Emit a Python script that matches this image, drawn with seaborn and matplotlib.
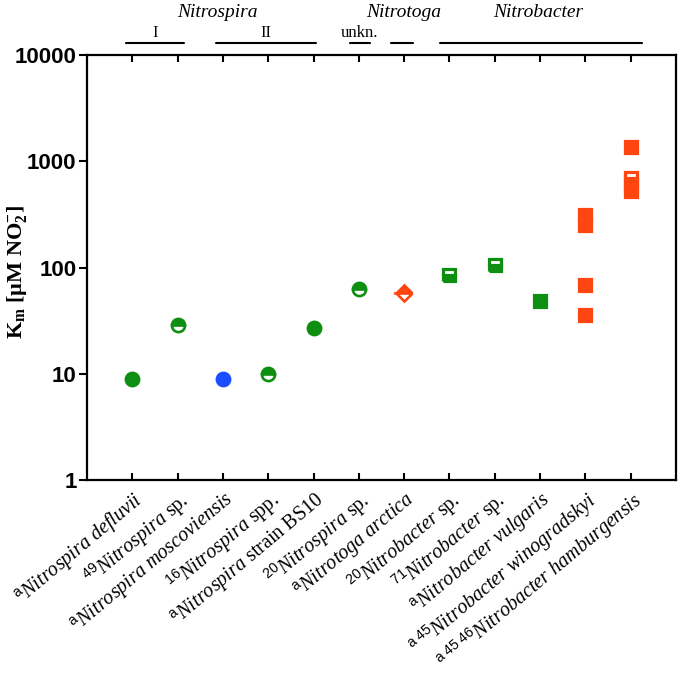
import pandas as pd
import seaborn as sns
import matplotlib.pyplot as plt
from matplotlib.ticker import NullLocator
from matplotlib.transforms import blended_transform_factory

# Strains on the x axis (superscripts = reference numbers)
strain_labels = [
    r"$^{\mathsf{a}}\mathit{Nitrospira\ defluvii}$",
    r"$^{\mathsf{49}}\mathit{Nitrospira}\ \mathrm{sp.}$",
    r"$^{\mathsf{a}}\mathit{Nitrospira\ moscoviensis}$",
    r"$^{\mathsf{16}}\mathit{Nitrospira}\ \mathrm{spp.}$",
    r"$^{\mathsf{a}}\mathit{Nitrospira}\ \mathrm{strain\ BS10}$",
    r"$^{\mathsf{20}}\mathit{Nitrospira}\ \mathrm{sp.}$",
    r"$^{\mathsf{a}}\mathit{Nitrotoga\ arctica}$",
    r"$^{\mathsf{20}}\mathit{Nitrobacter}\ \mathrm{sp.}$",
    r"$^{\mathsf{71}}\mathit{Nitrobacter}\ \mathrm{sp.}$",
    r"$^{\mathsf{a}}\mathit{Nitrobacter\ vulgaris}$",
    r"$^{\mathsf{a\ 45}}\mathit{Nitrobacter\ winogradskyi}$",
    r"$^{\mathsf{a\ 45\ 46}}\mathit{Nitrobacter\ hamburgensis}$",
]

# One entry per measured Km value
point_strain = [0, 1, 2, 3, 4, 5, 6, 7, 8, 9, 10, 10, 10, 10, 11, 11, 11, 11]
point_km = [9, 29, 9, 10, 27, 63, 58, 85, 106, 48, 310, 250, 68, 36, 1380, 700, 600, 530]
point_genus = ["Nitrospira"] * 6 + ["Nitrotoga"] + ["Nitrobacter"] * 11
point_group = ["A", "A", "B", "A", "A", "A", "C", "A", "A", "A",
               "C", "C", "C", "C", "C", "C", "C", "C"]
point_fill = ["full", "half", "full", "half", "full", "half", "half", "half", "half",
              "full", "full", "full", "full", "full", "full", "half", "full", "full"]

# Clade brackets and genus names above the plot
clade_names = ["I", "II", "unkn.", "", ""]
clade_spans = [(-0.15, 1.15), (1.85, 4.05), (4.8, 5.25), (5.7, 6.2), (6.8, 11.25)]
genus_names = ["Nitrospira", "Nitrotoga", "Nitrobacter"]
genus_pos = [1.87, 5.98, 8.95]

df = pd.DataFrame({
    "pos": point_strain,
    "km": point_km,
    "genus": point_genus,
    "group": point_group,
    "fill": point_fill,
})

group_colors = {"A": "#0f8f12", "B": "#1c4cff", "C": "#ff4510"}
genus_markers = {"Nitrospira": "o", "Nitrotoga": "D", "Nitrobacter": "s"}
marker_sizes = {"o": 9.5, "D": 8, "s": 8}
half_style = {"o": "top", "D": "top", "s": "bottom"}
edge_widths = {"o": 1.9, "D": 1.9, "s": 2.3}

sns.set_style("ticks")
plt.rcParams["font.family"] = ["Liberation Serif", "DejaVu Sans"]
plt.rcParams["text.color"] = "black"
plt.rcParams["axes.labelcolor"] = "black"
plt.rcParams["xtick.color"] = "black"
plt.rcParams["ytick.color"] = "black"
plt.rcParams["mathtext.fontset"] = "custom"
plt.rcParams["mathtext.rm"] = "Liberation Serif"
plt.rcParams["mathtext.it"] = "Liberation Serif:italic"
plt.rcParams["mathtext.bf"] = "Liberation Serif:bold"
plt.rcParams["mathtext.sf"] = "Liberation Sans"

fig = plt.figure(figsize=(6.8, 6.73), dpi=100)
ax = fig.add_axes([0.128, 0.287, 0.866, 0.631])

# filled markers first, half-filled on top
for fill in ["full", "half"]:
    for (genus, group), sub in df[df["fill"] == fill].groupby(["genus", "group"]):
        m = genus_markers[genus]
        c = group_colors[group]
        sns.lineplot(
            data=sub, x="pos", y="km", ax=ax, estimator=None, sort=False,
            linestyle="", marker=m, markersize=marker_sizes[m], color=c,
            markeredgecolor=c, markeredgewidth=edge_widths[m],
            fillstyle="full" if fill == "full" else half_style[m],
            markerfacecoloralt="white", legend=False, zorder=3,
        )

ax.set_yscale("log")
ax.set_ylim(1, 10000)
ax.set_xlim(-1, 12)
ax.set_yticks([1, 10, 100, 1000, 10000])
ax.set_yticklabels(["1", "10", "100", "1000", "10000"],
                   fontfamily="Liberation Sans", fontweight="bold", fontsize=16)
ax.yaxis.set_minor_locator(NullLocator())
ax.set_xticks(range(len(strain_labels)))
ax.set_xticklabels(strain_labels, fontsize=14.5, rotation=40,
                   ha="right", va="top", rotation_mode="anchor")
ax.tick_params(axis="x", direction="in", top=True, length=5, width=1.5, pad=6)
ax.tick_params(axis="y", direction="out", length=6, width=1.5, pad=1.5)
for s in ax.spines.values():
    s.set_visible(True)
    s.set_linewidth(1.6)
    s.set_color("black")

ax.set_xlabel("")
ax.set_ylabel(r"K$_{\mathbf{m}}$ [µM NO$_{\mathbf{2}}^{\mathbf{-}}$]",
              fontsize=16, fontweight="bold")
ax.yaxis.set_label_coords(-0.098, 0.49)

trans = blended_transform_factory(ax.transData, ax.transAxes)
for name, (x0, x1) in zip(clade_names, clade_spans):
    ax.plot([x0, x1], [1.028, 1.028], color="black", lw=1.5,
            transform=trans, clip_on=False)
    if name:
        ax.text((x0 + x1) / 2, 1.053, name, transform=trans, fontsize=12,
                ha="center", va="center")
for name, x in zip(genus_names, genus_pos):
    ax.text(x, 1.101, name, transform=trans, fontsize=14, style="italic",
            ha="center", va="center")

plt.savefig("out.png", dpi=100)
